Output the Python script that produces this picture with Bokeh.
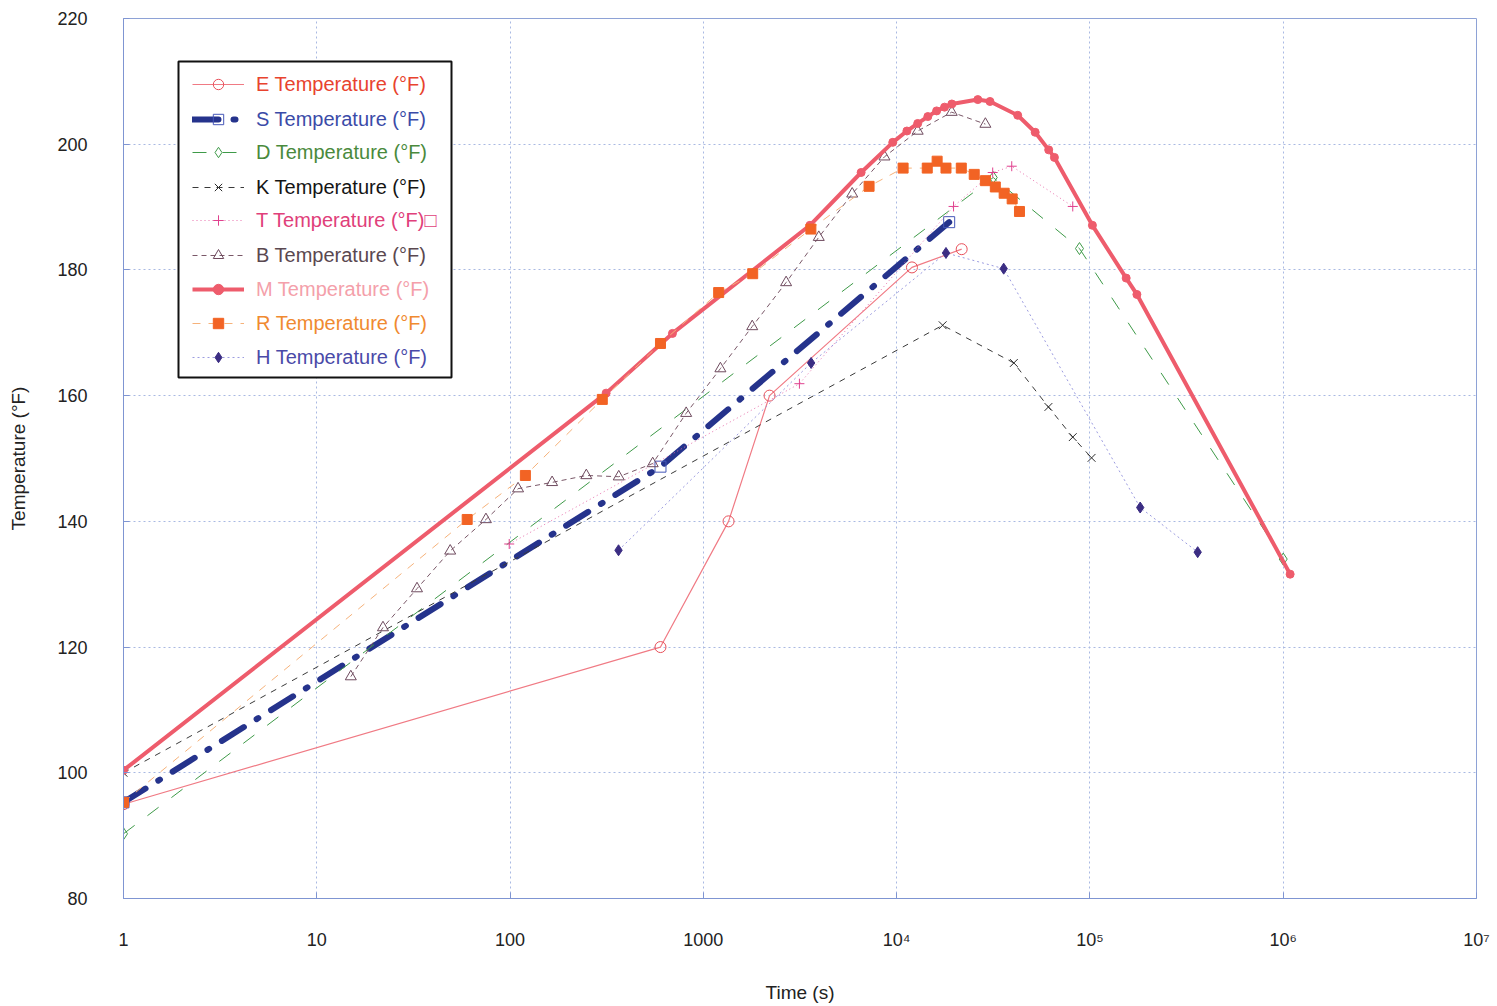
from bokeh.plotting import figure
from bokeh.models import (FixedTicker, Legend, LegendItem, BoxAnnotation, Range1d, ColumnDataSource)
from bokeh.embed import file_html
from bokeh.resources import INLINE

# ---------------- data (time in s, temperature in °F) ----------------
E_t = [1, 600, 1350, 2200, 12000, 21700]
E_T = [95.0, 120.0, 140.0, 160.0, 180.4, 183.3]

S_t = [1, 600, 18700]
S_T = [95.3, 148.7, 187.6]

D_t = [1, 31600, 88300, 1000000]
D_T = [90.3, 194.7, 183.4, 134.0]

K_t = [1, 17300, 40400, 61000, 81500, 102000]
K_T = [100.0, 171.2, 165.2, 158.2, 153.4, 150.1]

T_t = [99, 3140, 19700, 31400, 39400, 81500]
T_T = [136.4, 161.9, 190.1, 195.5, 196.5, 190.1]

B_t = [15, 22, 33, 49, 75, 110, 165, 248, 365, 547, 815, 1225, 1790, 2680,
       3955, 5890, 8650, 12850, 19270, 28780]
B_T = [115.3, 123.1, 129.3, 135.3, 140.3, 145.2, 146.2, 147.3, 147.1, 149.2,
       157.2, 164.3, 171.0, 178.0, 185.2, 192.1, 198.0, 202.1, 205.1, 203.2]

M_t = [1, 314, 692, 3560, 6550, 9550, 11300, 12850, 14500, 16100, 17700, 19300,
       26300, 30400, 42300, 52100, 61200, 65500, 103000, 154000, 175000, 1086000]
M_T = [100.4, 160.4, 169.9, 187.1, 195.5, 200.3, 202.1, 203.3, 204.4, 205.3, 205.9,
       206.4, 207.1, 206.8, 204.6, 201.9, 199.1, 197.9, 187.1, 178.7, 176.1, 131.6]

R_t = [1, 60, 120, 300, 600, 1200, 1800, 3600, 7200, 10800, 14400, 16200, 18000,
       21600, 25200, 28800, 32400, 36000, 39600, 43200]
R_T = [95.3, 140.3, 147.3, 159.4, 168.3, 176.4, 179.4, 186.5, 193.3, 196.2, 196.2,
       197.3, 196.2, 196.2, 195.2, 194.2, 193.2, 192.2, 191.3, 189.3]

H_t = [364, 3610, 18000, 35800, 182000, 361000]
H_T = [135.4, 165.2, 182.7, 180.2, 142.2, 135.1]

x_ticks = [1, 10, 100, 1000, 10000, 100000, 1000000, 10000000]
x_labels = ["1", "10", "100", "1000", "10\u2074", "10\u2075", "10\u2076", "10\u2077"]
y_ticks = [80, 100, 120, 140, 160, 180, 200, 220]

FONT = "Liberation Sans"

p = figure(x_axis_type="log", x_range=Range1d(1, 1e7), y_range=Range1d(80, 220),
           frame_width=1353, frame_height=880,
           min_border_left=123, min_border_right=20, min_border_top=18, min_border_bottom=106,
           output_backend="svg", toolbar_location=None,
           background_fill_color="white", border_fill_color="white")

p.outline_line_color = "#8EA2D6"
p.outline_line_width = 1

p.xaxis.ticker = FixedTicker(ticks=x_ticks)
p.xaxis.major_label_overrides = {t: l for t, l in zip(x_ticks, x_labels)}
p.yaxis.ticker = FixedTicker(ticks=y_ticks)

for ax in (p.xaxis, p.yaxis):
    ax.axis_line_color = "#7F95D2"
    ax.major_tick_line_color = "#7F95D2"
    ax.major_tick_in = 6
    ax.major_tick_out = 0
    ax.minor_tick_line_color = None
    ax.major_label_text_font = FONT
    ax.major_label_text_font_size = "18px"
    ax.major_label_text_color = "#222222"
    ax.axis_label_text_font = FONT
    ax.axis_label_text_font_size = "19px"
    ax.axis_label_text_font_style = "normal"
    ax.axis_label_text_color = "#222222"

p.xaxis.axis_label = "Time (s)"
p.yaxis.axis_label = "Temperature (°F)"
p.xaxis.major_label_standoff = 31
p.xaxis.axis_label_standoff = 29
p.yaxis.major_label_standoff = 36
p.yaxis.axis_label_standoff = 25

p.grid.grid_line_color = "#A9B9E2"
p.grid.grid_line_dash = "2 3"
p.grid.grid_line_width = 1
p.xgrid.minor_grid_line_color = None


def series(t, T, line_color, line_width, line_dash, marker, size, fill, mcolor, cap="butt"):
    src = ColumnDataSource(dict(t=t, T=T))
    ln = p.line("t", "T", source=src, line_color=line_color, line_width=line_width,
                line_dash=line_dash, line_cap=cap)
    sc = p.scatter("t", "T", source=src, marker=marker, size=size,
                   fill_color=fill, line_color=mcolor, line_width=1)
    return [ln, sc]


rE = series(E_t, E_T, "#F07A84", 1.2, "solid", "circle", 11, None, "#E8505A")
rS = series(S_t, S_T, "#25338C", 6, "26 15 2 15", "square", 11, None, "#4557B8", cap="round")
rD = series(D_t, D_T, "#3E9A48", 1, "14 16", "diamond", 12, None, "#3E9A48")
rK = series(K_t, K_T, "#3A3A3A", 1, "6 6", "x", 11, None, "#2A2A2A")
rT = series(T_t, T_T, "#E870AC", 1, "1 3", "cross", 10, None, "#E0408E")
rB = series(B_t, B_T, "#7A5868", 1, "5 4", "triangle", 11, None, "#6E4A5E")
rM = series(M_t, M_T, "#EE5C6C", 4, "solid", "circle", 8, "#EE5C6C", "#EE5C6C")
rR = series(R_t, R_T, "#F6B27A", 1, "8 8", "square", 10, "#F26324", "#F26324")
rH = series(H_t, H_T, "#9C9CE0", 1, "2 3", "diamond", 11, "#3B2D83", "#3B2D83")

# legend frame (screen units, relative to the plot frame)
box = BoxAnnotation(left=55, right=328, bottom=521, top=837,
                    left_units="screen", right_units="screen",
                    top_units="screen", bottom_units="screen",
                    fill_color="white", fill_alpha=1.0,
                    line_color="#111111", line_width=2, line_alpha=1.0)
p.add_layout(box)

entries = [
    ("E Temperature (°F)", rE, "#E8432E"),
    ("S Temperature (°F)", rS, "#3B4BA8"),
    ("D Temperature (°F)", rD, "#4A8A3C"),
    ("K Temperature (°F)", rK, "#151515"),
    ("T Temperature (°F)\u25a1", rT, "#E0407A"),
    ("B Temperature (°F)", rB, "#5A4850"),
    ("M Temperature (°F)", rM, "#F4A0AA"),
    ("R Temperature (°F)", rR, "#F08A30"),
    ("H Temperature (°F)", rH, "#4A4AA8"),
]
GH = 26
row_centers = [84, 119, 152, 187, 220, 255, 289, 323, 357]
for (label, rends, col), yc in zip(entries, row_centers):
    lg = Legend(items=[LegendItem(label=label, renderers=rends)],
                location=(69, 898 - yc - GH / 2),
                padding=0, margin=0, spacing=0,
                border_line_alpha=0, background_fill_alpha=0,
                glyph_width=52, glyph_height=GH, label_height=GH, label_standoff=12,
                label_text_color=col, label_text_font=FONT, label_text_font_size="20px",
                label_text_baseline="middle")
    p.add_layout(lg, "center")

open("out.html", "w").write(file_html(p, INLINE))
